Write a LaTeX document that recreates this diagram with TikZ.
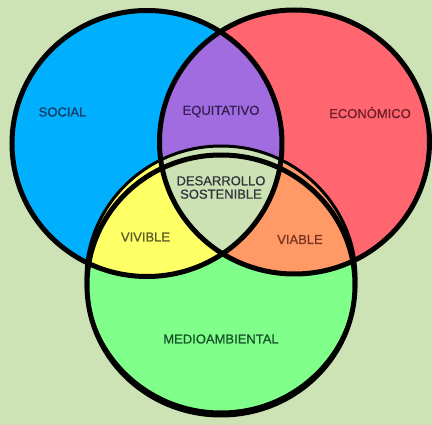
\documentclass[tikz,border=0pt]{standalone}
\usepackage{fontspec}
\setmainfont{Liberation Sans}
\newfontfamily\lblfont[FakeBold=0.6]{Liberation Sans}
\definecolor{bgc}{RGB}{205,227,181}
\definecolor{cblue}{RGB}{0,176,255}
\definecolor{cred}{RGB}{255,102,112}
\definecolor{cpurple}{RGB}{160,108,224}
\definecolor{cyellow}{RGB}{255,255,102}
\definecolor{corange}{RGB}{255,153,102}
\definecolor{cgreen}{RGB}{128,255,138}
\definecolor{ccenter}{RGB}{204,226,180}
\definecolor{tblue}{RGB}{20,60,100}
\definecolor{tred}{RGB}{110,30,40}
\definecolor{tpurple}{RGB}{50,30,80}
\definecolor{tyellow}{RGB}{90,90,40}
\definecolor{torange}{RGB}{120,50,30}
\definecolor{tgreen}{RGB}{20,80,40}
\definecolor{tgray}{RGB}{50,50,60}
\tikzset{
  lbl/.style={inner sep=0pt, font=\lblfont\fontsize{13}{13.4}\selectfont, align=center},
  ring/.style={draw=black, line width=5pt},
  thinring/.style={draw=black, line width=3pt}
}
\begin{document}
\begin{tikzpicture}[x=1pt,y=-1pt]
\fill[bgc] (0,0) rectangle (432,425);
\useasboundingbox (0,0) rectangle (432,425);
% fills
\begin{scope}
  \clip (0,13) rectangle (432,425);
  \fill[cblue] (147,143.5) ellipse [x radius=135pt, y radius=133pt];
  \fill[cred] (294.5,142) ellipse [x radius=135pt, y radius=132pt];
  \fill[cgreen] (221,279) ellipse [x radius=135pt, y radius=133pt];
  \begin{scope}
    \clip (147,143.5) ellipse [x radius=135pt, y radius=133pt];
    \fill[cpurple] (294.5,142) ellipse [x radius=135pt, y radius=132pt];
    \fill[cyellow] (221,279) ellipse [x radius=135pt, y radius=133pt];
  \end{scope}
  \begin{scope}
    \clip (294.5,142) ellipse [x radius=135pt, y radius=132pt];
    \fill[corange] (221,279) ellipse [x radius=135pt, y radius=133pt];
    \clip (147,143.5) ellipse [x radius=135pt, y radius=133pt];
    \fill[ccenter] (221,279) ellipse [x radius=135pt, y radius=133pt];
  \end{scope}
\end{scope}
% outlines
\draw[thinring] (221,279) ellipse [x radius=135pt, y radius=133pt];
\draw[ring] (147,143.5) ellipse [x radius=135pt, y radius=133pt];
\draw[ring] (294.5,142) ellipse [x radius=135pt, y radius=132pt];
\draw[ring] (221,285) ellipse [x radius=134pt, y radius=130pt];
% labels
\node[lbl, text=tblue] (social) at (62.5,112) {SOCIAL};
\node[lbl, text=tpurple] (equit) at (221,111.5) {EQUITATIVO};
\node[lbl, text=tred] (econ) at (370,112.5) {ECONÓMICO};
\node[lbl, text=tgray] (desa) at (221,187.5) {DESARROLLO\\SOSTENIBLE};
\node[lbl, text=tyellow] (vivi) at (145.5,237) {VIVIBLE};
\node[lbl, text=torange] (viab) at (300,239.5) {VIABLE};
\node[lbl, text=tgreen] (medio) at (221,339) {MEDIOAMBIENTAL};
\end{tikzpicture}
\end{document}
